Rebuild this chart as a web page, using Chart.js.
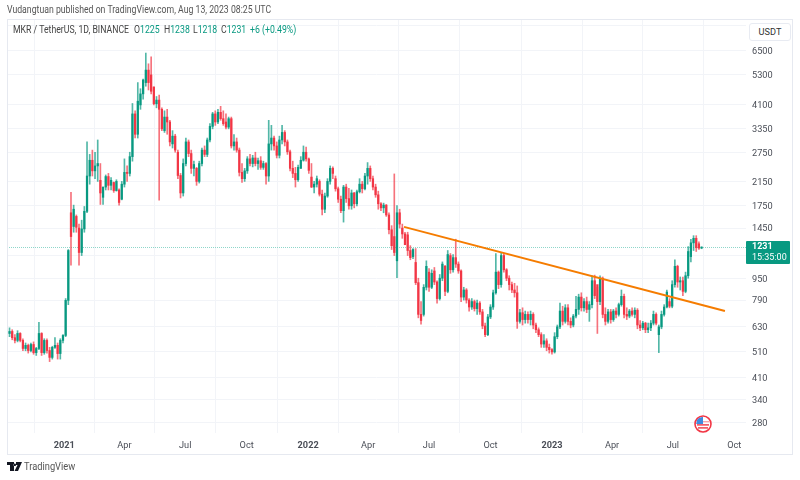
<!DOCTYPE html>
<html><head><meta charset="utf-8">
<script src="https://cdn.jsdelivr.net/npm/chart.js@4"></script>
<style>
html,body{margin:0;padding:0;background:#fff;width:800px;height:480px;overflow:hidden;font-family:Roboto,sans-serif;color:#4a4e57}
#c{position:absolute;left:0;top:0}
.t{position:absolute;white-space:nowrap;line-height:1;transform-origin:left center;font-size:10px;transform:scaleX(.87)}
.l{top:25px;color:#444}
#frame{position:absolute;left:7px;top:19px;width:784px;height:434px;border:1px solid #e6e9f0;box-sizing:content-box}
#unit{position:absolute;left:749px;top:23px;width:40px;height:16px;border:1px solid #e8ebf2;border-radius:3px;background:#fff;font-size:9.2px;line-height:16px;text-align:center;color:#333}
#tag{position:absolute;left:746px;top:241px;width:38px;padding-left:6px;height:23px;background:#089981;border-radius:1px;color:#fff;font-size:9px;line-height:11px;text-align:left}
.g{color:#089981}
</style></head><body>
<canvas id="c" width="800" height="480"></canvas>
<div id="frame"></div>
<div class="t" style="left:7px;top:5px;color:#555">Vudangtuan published on TradingView.com, Aug 13, 2023 08:25 UTC</div>
<div class="t l" style="left:13px">MKR / TetherUS, 1D, BINANCE</div>
<div class="t l" style="left:134px">O<span class="g">1225</span></div>
<div class="t l" style="left:164px">H<span class="g">1238</span></div>
<div class="t l" style="left:193px">L<span class="g">1218</span></div>
<div class="t l" style="left:221px">C<span class="g">1231</span></div>
<div class="t l g" style="left:250px">+6 (+0.49%)</div>
<div id="unit">USDT</div>
<div id="tag"><b>1231</b><br>15:35:00</div>
<svg style="position:absolute;left:7px;top:462px" width="15" height="10" viewBox="0 0 15 10"><path d="M0 0H7V9H3V3H0Z M9 0H15L11 9H7.5L10.5 3H9Z M7.8 1.5a1.3 1.3 0 1 0 .01 0Z" fill="#131722"/></svg>
<div class="t" style="left:24px;top:462px;color:#555;transform:scaleX(.93)">TradingView</div>
<svg style="position:absolute;left:694px;top:415px" width="18" height="18" viewBox="0 0 18 18"><circle cx="9" cy="9" r="8" fill="#fff" stroke="#f23645" stroke-width="1.6"/><rect x="3" y="6" width="12" height="1.4" fill="#f7a6ae"/><rect x="3" y="9.2" width="12" height="1.4" fill="#f23645"/><rect x="4" y="12.2" width="10" height="1.4" fill="#f23645"/><path d="M3 5a7 7 0 0 1 6-3v7H2.2Z" fill="#3f8be0"/></svg>
<script>
const tickDays=[0,90,181,273,365,455,546,638,730,820,911,1003];
const tickNames=['2021','Apr','Jul','Oct','2022','Apr','Jul','Oct','2023','Apr','Jul','Oct'];
const priceTicks=[8000,6500,5300,4100,3350,2750,2150,1750,1450,1150,950,790,630,510,410,340,280];
const hiddenTicks=[8000,1150];
const lastPrice=1231;
const trendDays=[508.5,989];
const trendValues=[1465,720];
const opens=[540,596,606,575,562,596,562,525,539,516,
543,507,525,596,507,562,516,487,530,539,
503,562,586,788,1650,1470,1600,1450,1180,1440,
1670,2250,2570,2350,2450,2170,1880,2050,2240,2080,
2130,1990,2000,1850,2100,2320,2300,2650,3800,3200,
4100,4500,4950,5500,5280,4770,4140,4270,3950,3300,
3700,3550,2950,3150,2750,2260,1950,2500,3000,2720,
2400,2400,2150,2500,2800,2700,3050,3420,3800,3550,
3850,3650,3550,3400,3650,2900,3000,2800,2320,2200,
2350,2600,2500,2620,2500,2560,2420,2500,2250,2950,
3100,2900,2680,3050,3250,3000,2760,2400,2300,2180,
2400,2570,2750,2600,2230,2050,2100,2150,1930,1700,
1900,2150,2400,2200,2020,1850,1680,2050,1860,1750,
1950,1780,1970,2100,2020,2250,2400,2200,2050,1920,
1780,1720,1760,1620,1430,1350,1100,1650,1450,1380,
1370,1200,1140,1085,915,700,700,880,1000,880,
1010,920,800,950,1050,850,1150,1020,1130,1070,
1010,810,860,790,745,780,735,770,715,635,
590,685,745,840,1000,900,1150,1020,950,900,
860,840,660,710,670,700,670,700,640,615,
590,545,560,530,520,510,580,630,720,660,
740,660,640,690,730,810,740,780,730,760,
930,900,780,950,700,660,715,670,720,700,
760,815,700,690,720,700,725,640,625,650,
615,625,650,700,590,630,700,745,780,750,
900,1050,920,930,850,970,1140,1280,1330,1270,
1225];
const highs=[625,625,615,590,610,600,570,550,545,550,
555,530,655,600,570,570,530,535,575,550,
570,590,800,1210,1960,1760,1620,1500,1550,1740,
3000,2700,2800,2750,3050,2500,2050,2270,2300,2220,
2140,2180,2020,2150,2600,2450,2750,4150,3900,4950,
4700,5100,6350,5800,6150,4770,4400,4450,4000,3900,
3950,3600,3300,3200,2800,2300,2600,3100,3050,2800,
2550,2420,2550,2850,2900,3100,3500,3850,3900,3950,
4050,3900,3800,3700,3700,3190,3100,2850,2500,2400,
2650,2700,2680,2750,2620,2650,2550,2520,3600,3450,
3150,3000,3150,3450,3300,3050,2800,2550,2420,2470,
2650,2900,2870,2620,2500,2150,2250,2180,2000,1950,
2200,2450,2430,2250,2050,1900,2080,2100,2030,2000,
1960,2000,2200,2150,2300,2520,2450,2250,2100,1980,
1800,1790,1770,1650,1480,2290,1755,1700,1500,1400,
1400,1250,1220,1220,950,780,900,1100,1030,1020,
1040,930,980,1090,1060,1200,1170,1160,1320,1090,
1020,880,870,800,800,790,790,780,730,650,
700,760,860,1170,1010,1180,1170,1030,970,920,
910,890,730,740,720,715,720,710,650,625,
600,590,570,545,525,600,640,770,750,760,
760,680,700,815,830,840,800,810,780,970,
975,880,970,960,740,730,730,730,740,770,
860,830,740,730,740,740,735,665,660,655,
650,665,720,710,640,720,760,860,800,930,
1110,1060,960,960,1000,1240,1320,1360,1360,1290,
1238];
const lows=[525,580,565,550,555,555,515,515,505,510,
500,495,520,495,500,505,470,480,525,480,
480,550,580,760,1060,1400,1400,1060,1150,1400,
1650,2100,2250,2200,2150,1770,1770,2000,2000,2000,
1960,1980,1760,1840,2050,2150,2250,2550,3100,3100,
3950,4300,4800,4650,4500,4100,4000,1835,3300,3250,
3200,2900,2850,2750,2200,1870,1900,2450,2650,2300,
2250,2080,2120,2450,2650,2650,3000,3350,3450,3500,
3600,3450,3350,3350,2850,2800,2750,2250,2130,2150,
2300,2450,2430,2450,2380,2380,2380,2100,2150,2800,
2800,2620,2620,2950,2900,2700,2350,2220,2050,2150,
2400,2550,2550,2300,2040,1950,2050,1900,1620,1650,
1880,2100,2200,1980,1800,1650,1525,1800,1700,1700,
1720,1750,1950,1950,2000,2100,2150,2000,1880,1700,
1680,1650,1600,1380,1210,1150,955,1450,1330,1260,
1150,1110,1120,900,680,645,690,860,850,870,
900,770,790,930,820,840,990,1000,1040,990,
780,790,770,720,730,720,700,700,620,580,
585,675,730,830,870,880,1000,930,860,840,
810,622,650,640,650,650,640,620,600,580,
530,530,515,505,500,505,570,620,640,650,
640,625,630,680,700,720,720,710,660,740,
800,596,760,680,640,650,650,660,680,690,
750,680,670,680,690,680,620,610,615,600,
600,610,640,640,507,620,690,740,740,740,
880,880,860,820,840,950,1090,1200,1190,1210,
1218];
const closes=[596,606,575,562,596,562,525,539,516,543,
507,525,596,507,562,516,487,530,539,503,
562,586,788,1200,1350,1700,1460,1180,1440,1670,
2250,2570,2350,2450,2500,1950,2050,2240,2080,2170,
1990,2150,1800,2100,2320,2300,2650,3800,3200,4230,
4500,5060,5500,4950,4600,4140,4270,3950,3350,3700,
3550,3000,3150,2800,2260,1950,2500,3000,2720,2400,
2480,2150,2500,2800,2700,3050,3420,3800,3550,3850,
3650,3500,3400,3650,2900,3000,2800,2320,2200,2350,
2600,2500,2620,2500,2560,2420,2500,2250,2950,3100,
2900,2680,3050,3250,3000,2760,2400,2300,2180,2420,
2570,2750,2600,2360,2050,2100,2200,1930,1700,1900,
2150,2400,2300,2020,1850,1680,2050,1860,1750,1950,
1780,1970,2100,2020,2250,2400,2200,2050,1920,1780,
1720,1760,1620,1430,1250,1180,1650,1500,1380,1260,
1200,1130,1210,915,700,665,880,1050,880,990,
920,800,950,1070,850,1160,1020,1130,1070,1010,
810,860,790,745,780,735,770,715,635,590,
685,745,840,1000,900,1150,1020,950,900,860,
840,660,710,670,700,670,700,640,615,590,
545,560,530,520,510,580,630,720,660,740,
660,640,690,730,810,740,780,730,760,930,
820,780,950,700,660,715,670,720,700,760,
815,700,690,720,700,725,640,625,650,615,
625,650,700,650,630,700,745,845,750,900,
1050,920,930,850,970,1190,1280,1330,1230,1225,
1231];
const days=opens.map((_,i)=>-86+4*i);
const up='#089981',down='#f23645';
const colors=opens.map((o,i)=>closes[i]>=o?up:down);
const wickColors=opens.map((o,i)=>closes[i]>=o?'rgba(8,153,129,.7)':'rgba(242,54,69,.7)');
const xMin=-85.8,xMax=1020.5;
const gridColor='#f2f4f8';
const fontFam='Roboto,sans-serif';
new Chart(document.getElementById('c'),{
  type:'bar',
  data:{datasets:[
    {type:'line',data:trendDays.map((d,i)=>({x:d,y:trendValues[i]})),borderColor:'#f57c00',borderWidth:2,pointRadius:0,order:0},
    {type:'bar',data:days.map((d,i)=>({x:d,y:[opens[i],closes[i]]})),backgroundColor:colors,barThickness:1.6,minBarLength:1,grouped:false,order:1},
    {type:'bar',data:days.map((d,i)=>({x:d,y:[lows[i],highs[i]]})),backgroundColor:wickColors,barThickness:1,grouped:false,order:2},
    {type:'line',data:[{x:xMin,y:lastPrice},{x:xMax,y:lastPrice}],borderColor:'#8fd6ca',borderWidth:1,borderDash:[1,1],pointRadius:0,order:3}
  ]},
  options:{
    responsive:false,animation:false,
    layout:{padding:{left:7,right:8,top:19,bottom:26}},
    plugins:{legend:{display:false},tooltip:{enabled:false}},
    scales:{
      x:{type:'linear',min:xMin,max:xMax,offset:false,
        afterBuildTicks:s=>{s.ticks=tickDays.map(v=>({value:v}));},
        afterFit:s=>{s.height=21;},
        grid:{color:gridColor,drawTicks:false},border:{display:false},
        ticks:{autoSkip:false,maxRotation:0,padding:7,color:'#4a4e57',
          font:c=>({family:fontFam,size:9.2,weight:/^20/.test(tickNames[tickDays.indexOf(c.tick?c.tick.value:0)])?'bold':'normal'}),
          callback:v=>tickNames[tickDays.indexOf(v)]}},
      y:{type:'logarithmic',position:'right',min:257.3,max:8464,
        afterBuildTicks:s=>{s.ticks=priceTicks.map(v=>({value:v}));},
        afterFit:s=>{s.width=46;},
        grid:{color:gridColor,drawTicks:false},border:{display:false},
        ticks:{autoSkip:false,crossAlign:'near',padding:6,labelOffset:1,color:'#4a4e57',font:{family:fontFam,size:9.2},
          callback:v=>hiddenTicks.includes(v)?'':String(v)}}
    }
  }
});
</script>
</body></html>
